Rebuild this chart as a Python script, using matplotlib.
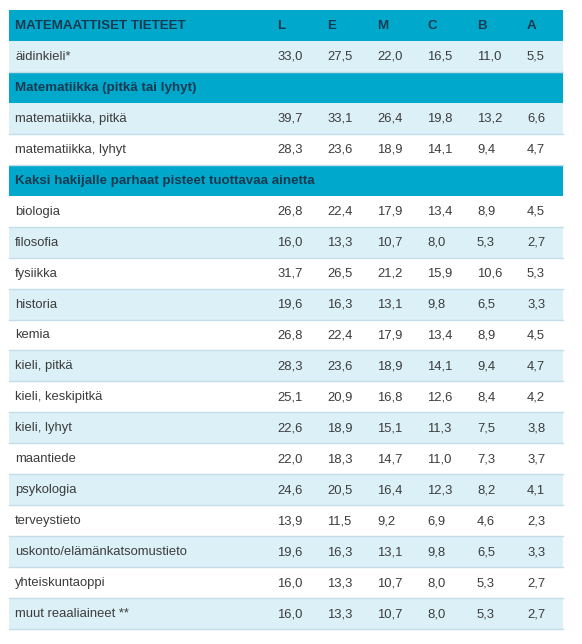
import matplotlib
matplotlib.use("Agg")
import matplotlib.pyplot as plt
from matplotlib.patches import Rectangle

plt.rcParams['font.family'] = ['Liberation Sans', 'DejaVu Sans']

title = "MATEMAATTISET TIETEET"
grades = ["L", "E", "M", "C", "B", "A"]

section_mother = ["äidinkieli*"]
section_math_title = "Matematiikka (pitkä tai lyhyt)"
section_math = ["matematiikka, pitkä", "matematiikka, lyhyt"]
section_two_title = "Kaksi hakijalle parhaat pisteet tuottavaa ainetta"
section_two = ["biologia", "filosofia", "fysiikka", "historia", "kemia",
               "kieli, pitkä", "kieli, keskipitkä", "kieli, lyhyt", "maantiede",
               "psykologia", "terveystieto", "uskonto/elämänkatsomustieto",
               "yhteiskuntaoppi", "muut reaaliaineet **"]

mother_vals = [[33.0, 27.5, 22.0, 16.5, 11.0, 5.5]]
math_vals = [[39.7, 33.1, 26.4, 19.8, 13.2, 6.6],
             [28.3, 23.6, 18.9, 14.1, 9.4, 4.7]]
two_vals = [[26.8, 22.4, 17.9, 13.4, 8.9, 4.5],
            [16.0, 13.3, 10.7, 8.0, 5.3, 2.7],
            [31.7, 26.5, 21.2, 15.9, 10.6, 5.3],
            [19.6, 16.3, 13.1, 9.8, 6.5, 3.3],
            [26.8, 22.4, 17.9, 13.4, 8.9, 4.5],
            [28.3, 23.6, 18.9, 14.1, 9.4, 4.7],
            [25.1, 20.9, 16.8, 12.6, 8.4, 4.2],
            [22.6, 18.9, 15.1, 11.3, 7.5, 3.8],
            [22.0, 18.3, 14.7, 11.0, 7.3, 3.7],
            [24.6, 20.5, 16.4, 12.3, 8.2, 4.1],
            [13.9, 11.5, 9.2, 6.9, 4.6, 2.3],
            [19.6, 16.3, 13.1, 9.8, 6.5, 3.3],
            [16.0, 13.3, 10.7, 8.0, 5.3, 2.7],
            [16.0, 13.3, 10.7, 8.0, 5.3, 2.7]]

rows = [("head", title, grades)]
for s, v in zip(section_mother, mother_vals):
    rows.append(("data", s, v))
rows.append(("head", section_math_title, None))
for s, v in zip(section_math, math_vals):
    rows.append(("data", s, v))
rows.append(("head", section_two_title, None))
for s, v in zip(section_two, two_vals):
    rows.append(("data", s, v))

W, H = 582, 644
fig = plt.figure(figsize=(W / 100, H / 100), dpi=100)
ax = fig.add_axes([0, 0, 1, 1])
ax.set_xlim(0, W)
ax.set_ylim(H, 0)
ax.axis("off")

left, right = 9, 563
top = 10
rh = 30.95
col_x = [277, 327, 377, 427, 477, 527]
text_x = 15

HEAD_BG = "#00a9cc"
LIGHT_BG = "#dcf0f7"
SEP = "#c4dde8"
HEAD_TXT = "#1a3a52"
CELL_TXT = "#3c3c3c"
FS = 9.4
FSB = 9.6

for i, (kind, label, vals) in enumerate(rows):
    y0 = top + i * rh
    yc = y0 + rh / 2 + 0.5
    if kind == "head":
        ax.add_patch(Rectangle((left, y0), right - left, rh, facecolor=HEAD_BG, edgecolor="none"))
        ax.text(text_x, yc, label, fontsize=FSB, fontweight="bold", color=HEAD_TXT, va="center", ha="left")
        if vals is not None:
            for x, g in zip(col_x, vals):
                ax.text(x, yc, g, fontsize=FSB, fontweight="bold", color=HEAD_TXT, va="center", ha="left")
    else:
        if i % 2 == 1:
            ax.add_patch(Rectangle((left, y0), right - left, rh, facecolor=LIGHT_BG, edgecolor="none"))
        ax.plot([left, right], [y0 + rh, y0 + rh], color=SEP, lw=1.0)
        ax.text(text_x, yc, label, fontsize=FS, color=CELL_TXT, va="center", ha="left")
        for x, v in zip(col_x, vals):
            ax.text(x, yc, f"{v:.1f}".replace(".", ","), fontsize=FS, color=CELL_TXT, va="center", ha="left")

fig.savefig("out.png", dpi=100)
